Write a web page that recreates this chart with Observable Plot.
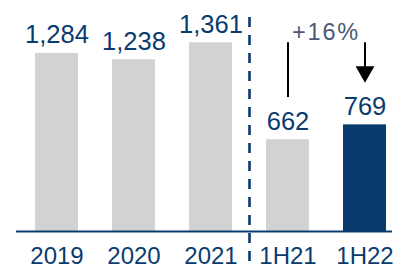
<!DOCTYPE html>
<html>
<head>
<meta charset="utf-8">
<script src="https://cdn.jsdelivr.net/npm/d3@7"></script>
<script src="https://cdn.jsdelivr.net/npm/@observablehq/plot@0.6"></script>
<style>
  html, body { margin: 0; padding: 0; background: #fff; }
  #chart svg { display: block; }
</style>
</head>
<body>
<div id="chart"></div>
<script>
const categories = ["2019", "2020", "2021", "1H21", "1H22"];
const values = [1284, 1238, 1361, 662, 769];
const valueLabels = ["1,284", "1,238", "1,361", "662", "769"];
const highlight = [false, false, false, false, true];
// growth annotation (values in chart units)
const growthLabel = ["+16%"];
const growthFrom = ["1H21"];
const growthTo = ["1H22"];
const arrowTop = [1362];
const leftStemEnd = [966];
const rightStemEnd = [1160];
const arrowHeadAt = [1152];

const navy = "#0a3b6f";
const grey = "#d1d2d4";

const data = categories.map((c, i) => ({cat: c, value: values[i], label: valueLabels[i], hi: highlight[i]}));

const plot = Plot.plot({
  width: 396,
  height: 268,
  marginLeft: 16,
  marginRight: 4,
  marginTop: 23,
  marginBottom: 37,
  style: {fontFamily: "Liberation Sans, Arial, sans-serif", overflow: "visible"},
  x: {domain: categories, padding: 0.445, paddingOuter: 0.148, align: 0.74, axis: null},
  y: {domain: [0, 1500], axis: null},
  marks: [
    Plot.barY(data, {x: "cat", y: "value", fill: d => d.hi ? navy : grey}),
    Plot.ruleY([0], {stroke: navy, strokeWidth: 2.2}),
    Plot.ruleX(["1H21"], {x: d => d, dx: -38.5, stroke: navy, strokeWidth: 2.6, strokeDasharray: "10,8", insetTop: -6, insetBottom: -40}),
    Plot.text(data, {x: "cat", y: "value", text: "label", dy: -10, lineAnchor: "bottom", fill: navy, fontSize: 25.5}),
    Plot.text(data, {x: "cat", y: 0, text: "cat", dy: 32, lineAnchor: "bottom", fill: navy, fontSize: 24}),
    Plot.ruleX(growthFrom, {x: d => d, y1: arrowTop, y2: leftStemEnd, stroke: "#000", strokeWidth: 2}),
    Plot.ruleX(growthTo, {x: d => d, y1: arrowTop, y2: rightStemEnd, stroke: "#000", strokeWidth: 2}),
    Plot.dot(growthTo, {x: d => d, y: arrowHeadAt, symbol: "triangle", rotate: 180, r: 7, fill: "#000", stroke: null}),
    Plot.text(growthLabel, {x: growthTo, y: arrowTop.map(v => v + 22), text: d => d, dx: -39, lineAnchor: "bottom", fill: "#4b5a72", fontSize: 23.5})
  ]
});
d3.select(plot).selectAll("text").filter(function() { return this.textContent === growthLabel[0]; })
  .style("letter-spacing", "1.8px");
document.getElementById("chart").appendChild(plot);
</script>
</body>
</html>
